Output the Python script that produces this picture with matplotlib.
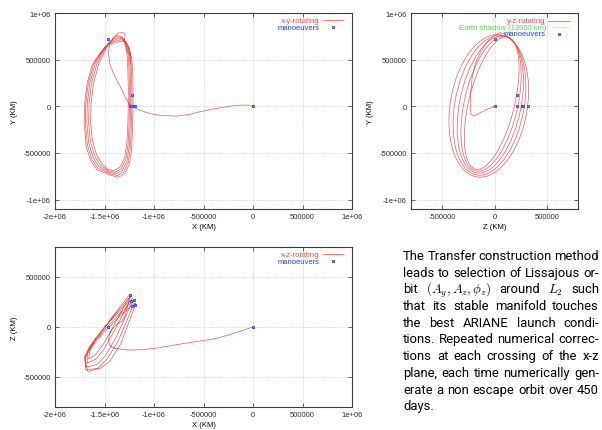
"""
Three projections of an L2 Lissajous transfer (rotating frame) + explanatory text.
"""
import numpy as np
import matplotlib
matplotlib.use("Agg")
import matplotlib.pyplot as plt
from matplotlib.patches import Ellipse, Circle

plt.rcParams["font.family"] = ["Liberation Sans", "DejaVu Sans"]
plt.rcParams["mathtext.fontset"] = "cm"

K = 1e3  # the trajectory values below are in thousands of km

# ---------------- x-y projection ----------------
xy_transfer_x = [0, -50, -100, -200, -350, -502, -640, -771, -900, -1007, -1080, -1141,
                 -1200, -1242, -1290, -1343, -1400, -1444, -1460, -1450, -1410, -1360,
                 -1320, -1290]
xy_transfer_y = [0, 12, 14, 8, -18, -50, -85, -104, -100, -86, -65, -40,
                 -15, 3, 100, 218, 330, 440, 560, 660, 740, 785,
                 795, 770]
xy_orbit_x = [
    -1302, -1274, -1264, -1260, -1260, -1264, -1274, -1297, -1342, -1407, -1470, -1525,
    -1580, -1622, -1640, -1636, -1610, -1560, -1490, -1420, -1370, -1325,
    -1290, -1262, -1252, -1248, -1248, -1252, -1262, -1285, -1330, -1395, -1460, -1540,
    -1598, -1641, -1660, -1656, -1630, -1578, -1505, -1435, -1360, -1315,
    -1278, -1250, -1240, -1236, -1236, -1240, -1250, -1273, -1318, -1383, -1450, -1553,
    -1614, -1658, -1678, -1674, -1648, -1595, -1520, -1450, -1348, -1303,
    -1266, -1238, -1228, -1224, -1224, -1228, -1238, -1261, -1306, -1371, -1440, -1565,
    -1628, -1673, -1693, -1689, -1663, -1610, -1533, -1462, -1336, -1291,
    -1254, -1226, -1216, -1212, -1212, -1216, -1226, -1249, -1294, -1359, -1430, -1577,
    -1640, -1685, -1705, -1701, -1675, -1622, -1545, -1474, -1324, -1279,
    -1245, -1235,
]
xy_orbit_y = [
    695, 575, 400, 200, 0, -200, -390, -550, -650, -690, -672, -620,
    -520, -370, -180, 30, 250, 450, 610, 720, 760, 745,
    680, 560, 400, 200, 0, -200, -408, -568, -668, -708, -690, -635,
    -535, -385, -180, 30, 250, 450, 600, 705, 745, 730,
    665, 545, 400, 200, 0, -200, -425, -585, -685, -725, -707, -650,
    -550, -400, -180, 30, 250, 450, 590, 690, 730, 715,
    650, 530, 400, 200, 0, -200, -442, -602, -702, -742, -724, -665,
    -565, -415, -180, 30, 250, 450, 580, 675, 715, 700,
    635, 515, 400, 200, 0, -200, -460, -620, -720, -760, -742, -680,
    -580, -430, -180, 30, 250, 450, 570, 660, 700, 685,
    600, 450,
]

# ---------------- y-z projection (Z horizontal, Y vertical) ----------------
yz_transfer_z = [0, -70, -135, -199, -224, -231, -231, -228, -215, -185, -135, -70,
                 0, 50, 100, 130]
yz_transfer_y = [0, -32, -68, -104, -86, -32, 21, 150, 300, 450, 580, 690,
                 760, 790, 775, 740]
yz_loop_zc = [-55, -48, -40, -33, -27]
yz_loop_yc = [5, 12, 20, 28, 35]
yz_loop_w = [740, 665, 590, 515, 440]
yz_loop_h = [1540, 1515, 1490, 1470, 1450]
yz_loop_angle = [-8, -9, -10, -11, -12]
shadow_radius = 13.0  # 13000 km

# ---------------- x-z projection ----------------
xz_transfer_x = [0, -150, -300, -401, -550, -700, -850, -973, -1100, -1209, -1242,
                 -1290, -1343, -1400, -1444, -1460, -1450, -1410, -1360, -1320, -1290,
                 -1262]
xz_transfer_z = [0, -50, -95, -120, -142, -165, -190, -210, -225, -230, -230,
                 -228, -220, -212, -185, -135, -70, -10, 40, 60, 120,
                 230]
xz_orbit_x = [
    -1240, -1290, -1362, -1479, -1593, -1647, -1660, -1589, -1517, -1421, -1328, -1274,
    -1228, -1285, -1365, -1495, -1616, -1673, -1675, -1587, -1510, -1409, -1315, -1261,
    -1215, -1279, -1367, -1510, -1641, -1700, -1690, -1576, -1489, -1382, -1293, -1242,
    -1200, -1268, -1361, -1510, -1648, -1698, -1690, -1567, -1474, -1363, -1276, -1226,
    -1190, -1259, -1353, -1505, -1640, -1697, -1670, -1544, -1448, -1336, -1259, -1213,
    -1185,
]
xz_orbit_z = [
    330, 270, 179, 24, -133, -236, -320, -274, -181, -14, 157, 260,
    310, 251, 159, 4, -157, -264, -360, -322, -229, -54, 125, 235,
    290, 232, 141, -15, -180, -291, -400, -376, -285, -103, 90, 207,
    265, 209, 117, -37, -200, -315, -430, -413, -322, -141, 58, 180,
    240, 187, 99, -51, -211, -305, -445, -412, -346, -169, 33, 155,
    235,
]

# manoeuvres (x, y, z)
man_x = [0, -1460, -1222, -1242, -1235, -1200, -1190]
man_y = [0, 718, 121, 0, 0, 0, 0]
man_z = [0, 5, 213, 324, 260, 275, 218]

# ticks
x_ticks = [-2e6, -1.5e6, -1e6, -5e5, 0, 5e5, 1e6]
x_ticklabels = ["-2e+06", "-1.5e+06", "-1e+06", "-500000", "0", "500000", "1e+06"]
y_ticks = [-1e6, -5e5, 0, 5e5, 1e6]
y_ticklabels = ["-1e+06", "-500000", "0", "500000", "1e+06"]
z_ticks = [-5e5, 0, 5e5]
z_ticklabels = ["-500000", "0", "500000"]

text_lines = [
    "The Transfer construction method",
    "leads to selection of Lissajous or-",
    r"bit $(A_y, A_z, \phi_z)$ around $L_2$ such",
    "that its stable manifold touches",
    "the best ARIANE launch condi-",
    "tions. Repeated numerical correc-",
    "tions at each crossing of the x-z",
    "plane, each time numerically gen-",
    "erate a non escape orbit over 450",
    "days.",
]

RED = "#f04848"
BLUE = "#2040ff"
GREEN = "#50e050"
FS = 5.5
W, H = 602, 431


def style(ax):
    ax.grid(True, color="#b8b8b8", ls=":", lw=0.5)
    ax.set_axisbelow(True)
    ax.tick_params(direction="in", length=3, width=0.5, labelsize=FS, pad=3,
                   top=True, right=True, colors="#303030")
    for s in ax.spines.values():
        s.set_color("#404040")
        s.set_linewidth(0.8)


MK = dict(ls="none", marker="s", ms=2.0, mfc="#8a9cff", mec=BLUE, mew=0.6)


def legend(ax, rows, tx, lx0, lx1, ys):
    for (label, color, kind), y in zip(rows, ys):
        ax.text(tx, y, label, color=color, ha="right", va="center", fontsize=FS,
                transform=ax.transAxes)
        if kind == "marker":
            ax.plot([(lx0 + lx1) / 2], [y], transform=ax.transAxes, clip_on=False, **MK)
        else:
            ax.plot([lx0, lx1], [y, y], color=color, lw=0.5,
                    ls=":" if kind == "dotted" else "-",
                    transform=ax.transAxes, clip_on=False)


def man(ax, u, v):
    ax.plot(np.array(u) * K, np.array(v) * K, zorder=5, **MK)


fig = plt.figure(figsize=(W / 100, H / 100), dpi=100)


def axes_px(l, t, r, b):
    return fig.add_axes([l / W, 1 - b / H, (r - l) / W, (b - t) / H])


# x-y
ax1 = axes_px(55, 14, 352, 210)
ax1.plot(np.array(xy_transfer_x + xy_orbit_x) * K, np.array(xy_transfer_y + xy_orbit_y) * K,
         color=RED, lw=0.45)
man(ax1, man_x, man_y)
ax1.set_xlim(-2e6, 1e6)
ax1.set_ylim(-1.1e6, 1e6)
ax1.set_xticks(x_ticks)
ax1.set_xticklabels(x_ticklabels)
ax1.set_yticks(y_ticks)
ax1.set_yticklabels(y_ticklabels)
ax1.set_xlabel("X (KM)", fontsize=FS, labelpad=2)
ax1.set_ylabel("Y (KM)", fontsize=FS, labelpad=4)
style(ax1)
legend(ax1, [("x-y-rotating", RED, "line"), ("manoeuvers", BLUE, "marker")],
       0.889, 0.902, 0.970, [0.964, 0.927])

# y-z
ax2 = axes_px(411, 14, 578, 210)
ax2.plot(np.array(yz_transfer_z) * K, np.array(yz_transfer_y) * K, color=RED, lw=0.45)
for zc, yc, w, h, ang in zip(yz_loop_zc, yz_loop_yc, yz_loop_w, yz_loop_h, yz_loop_angle):
    ax2.add_patch(Ellipse((zc * K, yc * K), w * K, h * K, angle=ang,
                          fill=False, edgecolor=RED, lw=0.45))
ax2.add_patch(Circle((0, 0), shadow_radius * K, fill=False, edgecolor=GREEN, ls=":", lw=0.5))
man(ax2, man_z, man_y)
ax2.set_xlim(-8e5, 8e5)
ax2.set_ylim(-1.1e6, 1e6)
ax2.set_xticks(z_ticks)
ax2.set_xticklabels(z_ticklabels)
ax2.set_yticks(y_ticks)
ax2.set_yticklabels(y_ticklabels)
ax2.set_xlabel("Z (KM)", fontsize=FS, labelpad=2)
ax2.set_ylabel("Y (KM)", fontsize=FS, labelpad=4)
style(ax2)
legend(ax2, [("y-z-rotating", RED, "line"), ("Earth shadow (13000 km)", GREEN, "dotted"),
             ("manoeuvers", BLUE, "marker")],
       0.808, 0.820, 0.952, [0.961, 0.927, 0.893])

# x-z
ax3 = axes_px(55, 248, 352, 408)
ax3.plot(np.array(xz_transfer_x + xz_orbit_x) * K, np.array(xz_transfer_z + xz_orbit_z) * K,
         color=RED, lw=0.45)
man(ax3, man_x, man_z)
ax3.set_xlim(-2e6, 1e6)
ax3.set_ylim(-8e5, 8e5)
ax3.set_xticks(x_ticks)
ax3.set_xticklabels(x_ticklabels)
ax3.set_yticks(z_ticks)
ax3.set_yticklabels(z_ticklabels)
ax3.set_xlabel("X (KM)", fontsize=FS, labelpad=2)
ax3.set_ylabel("Z (KM)", fontsize=FS, labelpad=4)
style(ax3)
legend(ax3, [("x-z-rotating", RED, "line"), ("manoeuvers", BLUE, "marker")],
       0.889, 0.902, 0.970, [0.956, 0.911])

# justified paragraph
fig.canvas.draw()
rend = fig.canvas.get_renderer()
x0, x1 = 403, 599
for i, line in enumerate(text_lines):
    if "$" in line:
        words = ["bit", r"$(A_y, A_z, \phi_z)$", "around", r"$L_2$", "such"]
    else:
        words = line.split(" ")
    base = 260 + i * 16.7
    ts = [fig.text(0, 1 - base / H, w, fontsize=9.4, family="Roboto", va="baseline")
          for w in words]
    widths = [t.get_window_extent(rend).width for t in ts]
    if i == len(text_lines) - 1 or len(ts) == 1:
        gap = 4
    else:
        gap = (x1 - x0 - sum(widths)) / (len(ts) - 1)
    x = x0
    for t, w in zip(ts, widths):
        t.set_x(x / W)
        x += w + gap

fig.savefig("out.png", dpi=100)
